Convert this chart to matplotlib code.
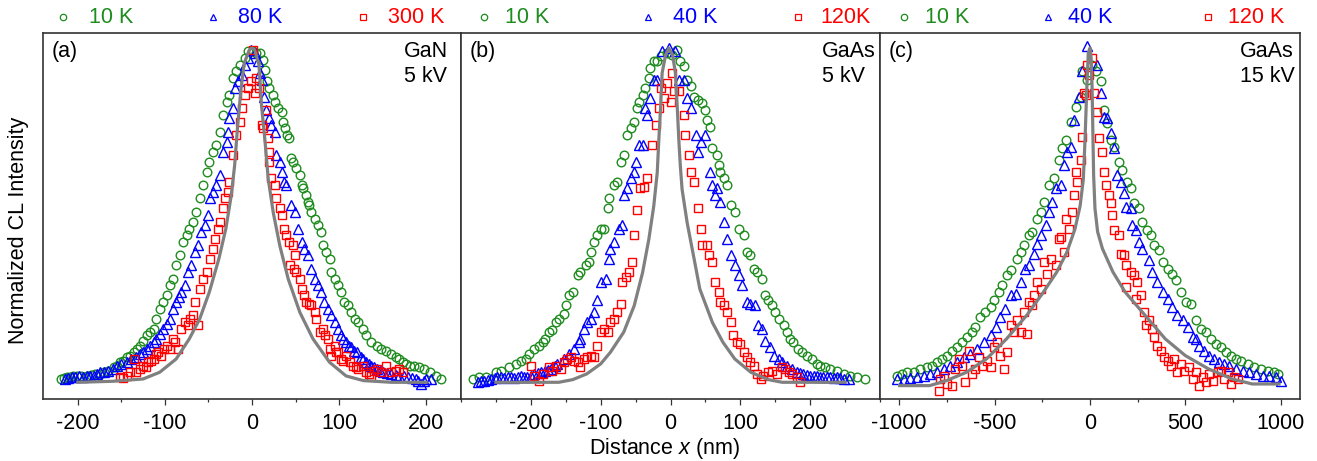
import matplotlib.pyplot as plt
from matplotlib.ticker import MultipleLocator

plt.rcParams['font.family'] = ['Liberation Sans', 'DejaVu Sans']
plt.rcParams['mathtext.fontset'] = 'custom'
plt.rcParams['mathtext.rm'] = 'Liberation Sans'
plt.rcParams['mathtext.it'] = 'Liberation Sans:italic'
plt.rcParams['axes.unicode_minus'] = False

# ---- data (x in nm, y = normalized CL intensity) ----

# (a) GaN, 5 kV
a_green_x = [-219, -216, -213, -209, -205, -201, -196, -190, -185, -180,
             -175, -170, -165, -159, -155, -152, -148, -144, -140, -136,
             -132, -129, -125, -121, -117, -113, -110, -106, -102, -98,
             -94, -91, -87, -83, -79, -75, -72, -68, -64, -60,
             -56, -52, -49, -45, -41, -37, -33, -29, -26, -22,
             -18, -14, -8, -5, 1, 5, 9,
             13, 15, 17, 20, 24, 26, 30, 34, 36, 38,
             40, 43, 45, 47, 51, 55, 57, 59, 62, 64,
             66, 68, 72, 76, 79, 81, 85, 89, 91, 95,
             99, 102, 106, 110, 114, 118, 122, 127, 131, 137,
             143, 148, 154, 160, 165, 169, 173, 177, 181, 186,
             192, 198, 204, 211, 217]
a_green_y = [.010, .012, .015, .015, .018, .020, .020, .020, .022, .025,
             .025, .030, .035, .045, .050, .060, .065, .075, .080, .090,
             .100, .110, .125, .140, .150, .160, .190, .220, .240, .260,
             .290, .310, .350, .380, .420, .440, .460, .480, .510, .550,
             .590, .630, .660, .690, .710, .750, .800, .840, .860, .910,
             .930, .950, .970, .990, .990, .985, .985,
             .965, .935, .900, .880, .860, .840, .820, .810, .780, .760,
             .740, .730, .670, .660, .640, .620, .590, .580, .560, .540,
             .530, .510, .490, .470, .450, .410, .390, .370, .330, .310,
             .290, .270, .240, .230, .210, .190, .180, .160, .140, .120,
             .110, .100, .095, .085, .075, .070, .060, .055, .050, .050,
             .045, .040, .030, .020, .010]

a_blue_x = [-215, -211, -207, -203, -199, -194, -190, -186, -182, -178,
            -175, -170, -165, -160, -155, -150, -144, -139, -133, -129,
            -125, -121, -117, -113, -110, -106, -102, -98, -94, -91,
            -87, -84, -81, -77, -73, -70, -66, -62, -58, -54,
            -50, -48, -45, -41, -37, -33, -29, -27, -26, -22,
            -20, -16, -12, -8, -5, -1, 3, 7, 9, 11,
            14, 16, 20, 22, 26, 28, 32, 34, 37, 39,
            45, 49, 53, 57, 60, 64, 68, 72, 76, 79,
            83, 87, 91, 95, 99, 102, 105, 108, 111, 114,
            117, 120, 125, 128, 131, 134, 137, 140, 143, 147,
            150, 155, 160, 165, 169, 174, 179, 184, 188, 191,
            194, 197, 200, 206]
a_blue_y = [.010, .012, .015, .015, .018, .015, .020, .018, .020, .025,
            .030, .032, .035, .040, .050, .055, .060, .070, .075, .085,
            .090, .100, .110, .120, .130, .145, .160, .175, .190, .220,
            .240, .255, .270, .290, .330, .350, .390, .410, .450, .470,
            .500, .550, .570, .590, .620, .690, .720, .750, .790, .820,
            .880, .900, .920, .950, .970, .995, .985, .960, .925, .905,
            .855, .815, .790, .770, .750, .680, .660, .630, .600, .590,
            .530, .510, .460, .420, .400, .380, .340, .310, .290, .270,
            .240, .220, .200, .180, .160, .140, .130, .120, .110, .105,
            .095, .090, .075, .070, .060, .055, .050, .045, .040, .035,
            .030, .028, .025, .022, .020, .018, .015, .012, .010, .005,
            -.005, .005, .010, .010]

a_red_x = [-152, -148, -144, -140, -136, -133, -129, -125, -122, -119,
           -116, -113, -110, -108, -104, -101, -98, -94, -91, -88,
           -85, -81, -77, -74, -71, -68, -66, -62, -60, -56,
           -52, -48, -45, -43, -39, -37, -33, -31, -27, -26,
           -22, -18, -14, -12, -8, -5, -1, 1, 3, 5,
           8, 11, 13, 16, 18, 20, 19, 22, 26, 28,
           32, 35, 37, 39, 43, 44, 47, 48, 49, 51,
           55, 57, 60, 62, 65, 68, 72, 74, 78, 81,
           84, 87, 89, 91, 95, 97, 99, 102, 105, 108,
           112, 116, 119, 122, 127, 131, 134, 137, 140, 143,
           148, 154, 160, 165, 169, 173]
a_red_y = [.015, .012, .020, .030, .070, .030, .040, .050, .045, .060,
           .065, .070, .085, .090, .080, .100, .110, .100, .130, .120,
           .100, .160, .180, .170, .190, .200, .240, .170, .280, .310,
           .330, .370, .400, .430, .460, .480, .520, .550, .570, .600,
           .680, .740, .780, .820, .860, .880, .900, .995, .865, .910,
           .880, .770, .760, .815, .730, .690, .660, .610, .590, .550,
           .520, .500, .460, .440, .420, .350, .410, .340, .380, .330,
           .310, .280, .260, .240, .235, .230, .210, .190, .150, .160,
           .140, .130, .100, .080, .110, .090, .090, .070, .065, .080,
           .060, .050, .045, .040, .050, .030, .025, .020, .035, .040,
           .030, .050, .030, .035, .040, .030]

a_fit_x = [-200, -160, -125, -106, -87, -72, -60, -49, -38, -30,
           -24, -20, -16.5, -12.7, -8.9, -3, 0, 3, 8, 11,
           14.8, 18.7, 24.4, 32, 41.6, 55, 70, 89, 108, 128,
           160, 200]
a_fit_y = [0, .003, .010, .030, .070, .130, .190, .270, .370, .460,
           .556, .647, .766, .876, .955, .995, 1.0, .995, .950, .826,
           .726, .607, .508, .408, .309, .209, .130, .060, .019, .005,
           0, 0]

# (b) GaAs, 5 kV
b_green_x = [-283, -274, -264, -250, -243, -231, -221, -214, -207, -202,
             -195, -188, -183, -179, -174, -169, -164, -160, -152, -150,
             -145, -140, -133, -129, -121, -117, -114, -110, -105, -100,
             -95, -90, -88, -81, -76, -71, -67, -62, -57, -52,
             -48, -45, -40, -36, -31, -29, -24, -19, -14, -5,
             2, 10, 14, 19, 24, 29, 33, 40, 45, 50,
             52, 57, 60, 67, 69, 71, 76, 81, 86, 93,
             98, 105, 110, 114, 119, 124, 131, 136, 140, 145,
             150, 155, 162, 167, 171, 176, 183, 188, 195, 202,
             210, 214, 221, 229, 238, 248, 257, 267, 279]
b_green_y = [.010, .015, .015, .030, .035, .045, .055, .065, .070, .085,
             .100, .110, .120, .130, .150, .155, .180, .190, .205, .230,
             .260, .270, .320, .330, .350, .360, .390, .420, .440, .460,
             .460, .520, .550, .590, .600, .660, .680, .740, .760, .780,
             .820, .840, .860, .880, .910, .940, .960, .960, .975, .985,
             .980, .995, .960, .945, .905, .885, .855, .845, .835, .815,
             .785, .765, .700, .680, .650, .630, .610, .590, .530, .510,
             .460, .440, .390, .380, .340, .330, .310, .260, .245, .230,
             .210, .190, .170, .150, .130, .120, .100, .090, .080, .070,
             .055, .050, .045, .040, .035, .025, .020, .015, .010]

b_blue_x = [-276, -272, -267, -262, -257, -252, -248, -243, -238, -233,
            -228, -224, -219, -214, -210, -205, -200, -195, -190, -186,
            -180, -176, -171, -166, -162,
            -152, -145, -138, -131, -129, -124, -119, -114, -110, -105,
            -100, -93, -88, -86, -81, -74, -69, -67, -62, -57,
            -52, -50, -45, -40, -36, -33, -29, -24, -19, -12, -2,
            7, 12, 19, 24, 29, 36, 40, 43, 50, 57,
            60, 64, 67, 71, 76, 81, 86, 93, 98, 102,
            110, 114, 121, 126, 131, 136, 143, 148, 155, 160,
            167, 174, 181, 186, 190, 195, 200, 205, 210, 214,
            219, 224, 229, 234, 238, 243, 248, 255]
b_blue_y = [.000, .005, .005, .008, .010, .012, .015, .015, .012, .015,
            .015, .012, .015, .018, .015, .015, .020, .025, .028, .030,
            .035, .038, .040, .048, .055,
            .070, .085, .100, .120, .130, .160, .180, .190, .210, .245,
            .300, .310, .370, .400, .420, .460, .470, .560, .580, .610,
            .630, .660, .710, .710, .820, .800, .850, .905, .905, .990, 1.00,
            .990, .905, .905, .850, .820, .740, .690, .720, .740, .630,
            .590, .560, .580, .540, .480, .430, .380, .350, .320, .290,
            .240, .235, .230, .170, .160, .125, .105, .080, .070, .060,
            .050, .040, .030, .028, .025, .022, .020, .018, .020, .016,
            .015, .015, .015, .012, .015, .012, .010, .010]

b_red_x = [-200, -195, -188, -183, -174, -169, -164, -157, -152, -148,
           -143, -138, -133, -129, -124, -119, -114, -110, -105, -100,
           -95, -90, -86, -81, -76, -71, -69, -64, -60, -55,
           -52, -48, -43, -38, -33, -26, -21, -17, -14, -10,
           -5, 0, 2, 5, 12, 19, 21, 26, 29, 33,
           40, 43, 45, 52, 55, 60, 64, 69, 71, 76,
           81, 86, 90, 95, 100, 105, 110, 114, 119, 124,
           129, 133, 140, 145, 152, 160, 164, 169, 174, 181,
           186]
b_red_y = [.050, .020, .005, .025, .045, .035, .050, .040, .060, .070,
           .075, .065, .060, .045, .070, .075, .080, .075, .110, .150,
           .160, .150, .180, .190, .210, .235, .300, .315, .330, .360,
           .440, .515, .580, .585, .610, .710, .770, .820, .880, .850,
           .895, .840, .925, .870, .870, .800, .740, .680, .630, .600,
           .520, .460, .410, .410, .380, .360, .300, .270, .240, .230,
           .210, .180, .140, .120, .115, .090, .075, .060, .050, .025,
           .010, .020, .030, .035, .025, .045, .040, .030, .025, .015,
           .000]

b_fit_x = [-250, -200, -160, -140, -120, -100, -86, -67, -52, -40,
           -31, -24, -19, -16.7, -14, -12, -7, -2.4, 3, 7,
           9.5, 11.9, 14, 16.6, 23.8, 33, 42, 60, 75, 92,
           115, 140, 160, 200, 250]
b_fit_y = [0, 0, 0, .008, .025, .055, .090, .150, .229, .328,
           .428, .527, .627, .726, .830, .925, .980, 1.0, .980, .925,
           .830, .726, .650, .577, .478, .378, .279, .179, .120, .070,
           .030, .008, 0, 0, 0]

# (c) GaAs, 15 kV
c_green_x = [-1011, -985, -959, -924, -889, -854, -828, -801, -775, -749,
             -723, -696, -670, -644, -618, -600, -574, -548, -521, -504,
             -478, -460, -434, -416, -381, -364, -346, -320, -303, -276,
             -259, -241, -215, -189, -163, -145, -128, -101, -75, -49,
             -40, -14, 12, 30, 56, 73, 91, 108, 126, 152,
             170, 196, 213, 231, 257, 274, 301, 318, 336, 362,
             380, 406, 432, 450, 476, 502, 528, 555, 581, 607,
             633, 660, 686, 712, 738, 765, 791, 826, 861, 896,
             931, 966, 983]
c_green_y = [.020, .025, .030, .032, .040, .045, .050, .060, .070, .080,
             .095, .105, .120, .135, .150, .165, .195, .210, .225, .245,
             .270, .290, .320, .335, .370, .390, .410, .440, .450, .490,
             .510, .540, .590, .610, .665, .700, .725, .780, .825, .855,
             .930, .905, .950, .930, .900, .815, .775, .725, .705, .660,
             .635, .600, .580, .535, .520, .480, .455, .440, .410, .395,
             .360, .340, .325, .305, .270, .240, .235, .185, .160, .150,
             .130, .115, .105, .090, .080, .070, .065, .055, .045, .040,
             .035, .030, .025]

c_blue_x = [-1011, -976, -941, -906, -871, -836, -801, -766, -731, -696,
            -661, -626, -591, -556, -521, -495, -469, -443, -416, -390,
            -364, -338, -320, -294, -276, -259, -233, -215, -197, -180,
            -154, -136, -119, -101, -84, -58, -40, -14,
            38, 56, 73, 91, 108, 126, 143, 161, 178, 187,
            213, 222, 240, 257, 274, 310, 327, 353, 380, 406,
            432, 458, 485, 511, 537, 555, 572, 598, 625, 651,
            677, 703, 730, 765, 800, 835, 870, 905, 940, 975,
            1001]
c_blue_y = [.010, .010, .012, .015, .020, .025, .030, .040, .050, .060,
            .075, .085, .100, .120, .140, .165, .195, .220, .260, .265,
            .300, .340, .350, .385, .415, .440, .470, .510, .540, .580,
            .590, .650, .690, .705, .785, .855, .930, 1.005,
            .950, .865, .795, .790, .745, .700, .620, .600, .565, .525,
            .520, .470, .455, .420, .400, .365, .330, .300, .270, .250,
            .225, .200, .185, .165, .135, .130, .110, .095, .080, .070,
            .060, .055, .050, .040, .035, .030, .025, .020, .018, .015,
            .005]

c_red_x = [-793, -784, -766, -749, -723, -705, -688, -670, -653, -635,
           -618, -600, -583, -565, -539, -521, -504, -486, -469, -451,
           -434, -416, -399, -381, -364, -346, -329, -320, -303, -294,
           -276, -259, -241, -224, -206, -180, -163, -154, -136, -128,
           -110, -93, -84, -75, -66, -49, -40, -31, -23, -14,
           -5, 12, 21, 38, 47, 65, 73, 82, 100, 108,
           117, 126, 152, 161, 178, 187, 213, 231, 248, 187,
           240, 266, 283, 292, 310, 327, 336, 353, 371, 388,
           406, 423, 441, 458, 476, 493, 520, 537, 555, 572,
           590, 607, 625, 642, 668, 686, 703, 721, 738, 756,
           773]
c_red_y = [-.025, .010, .020, -.005, -.010, .040, .070, .050, .000, .095,
           .025, .040, .075, .050, .065, .045, .105, .120, .080, .040,
           .090, .170, .150, .185, .150, .210, .145, .240, .230, .260,
           .300, .280, .360, .325, .370, .350, .430, .435, .390, .490,
           .460, .510, .560, .630, .600, .665, .735, .865, .860, .950,
           .920, .970, .865, .810, .730, .690, .630, .590, .560, .535,
           .500, .455, .440, .385, .380, .350, .330, .320, .300, .285,
           .250, .260, .210, .170, .185, .160, .135, .110, .095, .075,
           .065, .050, .070, .030, .055, .035, .045, .010, .030, -.010,
           .015, .000, .025, .005, .030, .035, .010, .030, -.005, .015,
           .010]

c_fit_x = [-997, -840, -752, -647, -542, -437, -332, -245, -175, -122,
           -79, -52, -35, -26, -17, -9, 0, 6, 11, 15,
           19, 26, 40, 65, 120, 184, 289, 394, 499, 621,
           744, 849, 990]
c_fit_y = [-.010, -.010, .005, .030, .070, .130, .200, .269, .329, .388,
           .458, .527, .607, .726, .876, .985, 1.0, .970, .880, .750,
           .620, .520, .450, .400, .330, .270, .200, .130, .080, .040,
           .010, -.005, -.005]

a_labels = ['10 K', '80 K', '300 K']
b_labels = ['10 K', '40 K', '120K']
c_labels = ['10 K', '40 K', '120 K']

# ---- styling / layout ----
GREEN, BLUE, RED, GRAY = '#1e8c1e', '#0000ff', '#ff0000', '#808080'
FRAME = '#333333'
FS = 15.5
W, H = 1317, 461

panels = [
    dict(rect=(43, 418), xlim=(-240, 240), minor=50,
         ticks=[-200, -100, 0, 100, 200], tag='(a)', mat='GaN', kv='5 kV', matx=0.864,
         series=[(a_green_x, a_green_y), (a_blue_x, a_blue_y), (a_red_x, a_red_y)],
         fit=(a_fit_x, a_fit_y), labels=a_labels,
         leg_marker=[62.7, 213, 363], leg_text=[89, 238, 388]),
    dict(rect=(461, 419), xlim=(-300, 300), minor=50,
         ticks=[-200, -100, 0, 100, 200], tag='(b)', mat='GaAs', kv='5 kV', matx=0.861,
         series=[(b_green_x, b_green_y), (b_blue_x, b_blue_y), (b_red_x, b_red_y)],
         fit=(b_fit_x, b_fit_y), labels=b_labels,
         leg_marker=[484, 648, 798], leg_text=[505, 673, 820]),
    dict(rect=(880, 420), xlim=(-1100, 1100), minor=250,
         ticks=[-1000, -500, 0, 500, 1000], tag='(c)', mat='GaAs', kv='15 kV', matx=0.857,
         series=[(c_green_x, c_green_y), (c_blue_x, c_blue_y), (c_red_x, c_red_y)],
         fit=(c_fit_x, c_fit_y), labels=c_labels,
         leg_marker=[904, 1048, 1208], leg_text=[925, 1068, 1228]),
]

styles = [dict(marker='o', ms=6.2, lms=4.6, color=GREEN),
          dict(marker='^', ms=6.5, lms=5.0, color=BLUE),
          dict(marker='s', ms=5.2, lms=4.3, color=RED)]

fig = plt.figure(figsize=(W / 100, H / 100), dpi=100)

for p in panels:
    left, width = p['rect']
    ax = fig.add_axes([left / W, 62 / H, width / W, 366 / H])
    for (xs, ys), st in zip(p['series'], styles):
        ax.plot(xs, ys, ls='none', marker=st['marker'], ms=st['ms'],
                mfc='none', mec=st['color'], mew=1.0)
    ax.plot(p['fit'][0], p['fit'][1], color=GRAY, lw=2.3, solid_joinstyle='round')

    ax.set_xlim(*p['xlim'])
    ax.set_ylim(-0.05, 1.045)
    ax.set_xticks(p['ticks'])
    ax.xaxis.set_minor_locator(MultipleLocator(p['minor']))
    ax.set_yticks([])
    ax.tick_params(axis='x', which='major', direction='out', length=4.5, width=0.9,
                   color=FRAME, labelsize=FS, pad=5.5)
    ax.tick_params(axis='x', which='minor', direction='out', length=2.5, width=0.9,
                   color=FRAME)
    for s in ax.spines.values():
        s.set_color(FRAME)
        s.set_linewidth(1.2)

    ax.text(0.0215, 0.935, p['tag'], transform=ax.transAxes, fontsize=FS, va='baseline')
    ax.text(p['matx'], 0.935, p['mat'], transform=ax.transAxes, fontsize=FS, va='baseline')
    ax.text(p['matx'], 0.867, p['kv'], transform=ax.transAxes, fontsize=FS, va='baseline')

    # legend row above each panel
    for mx, tx, lab, st in zip(p['leg_marker'], p['leg_text'], p['labels'], styles):
        ax.plot([mx / W], [1 - 17 / H], transform=fig.transFigure, clip_on=False,
                ls='none', marker=st['marker'], ms=st['lms'], mfc='none',
                mec=st['color'], mew=0.9)
        fig.text(tx / W, 1 - 22.7 / H, lab, color=st['color'], fontsize=FS, va='baseline')

fig.text(18.5 / W, 1 - 230.7 / H, 'Normalized CL Intensity', rotation=90,
         ha='center', va='center', fontsize=FS)
fig.text(664.5 / W, 1 - 453.5 / H, 'Distance $x$ (nm)', ha='center', va='baseline',
         fontsize=FS)

fig.savefig('out.png', dpi=100)
